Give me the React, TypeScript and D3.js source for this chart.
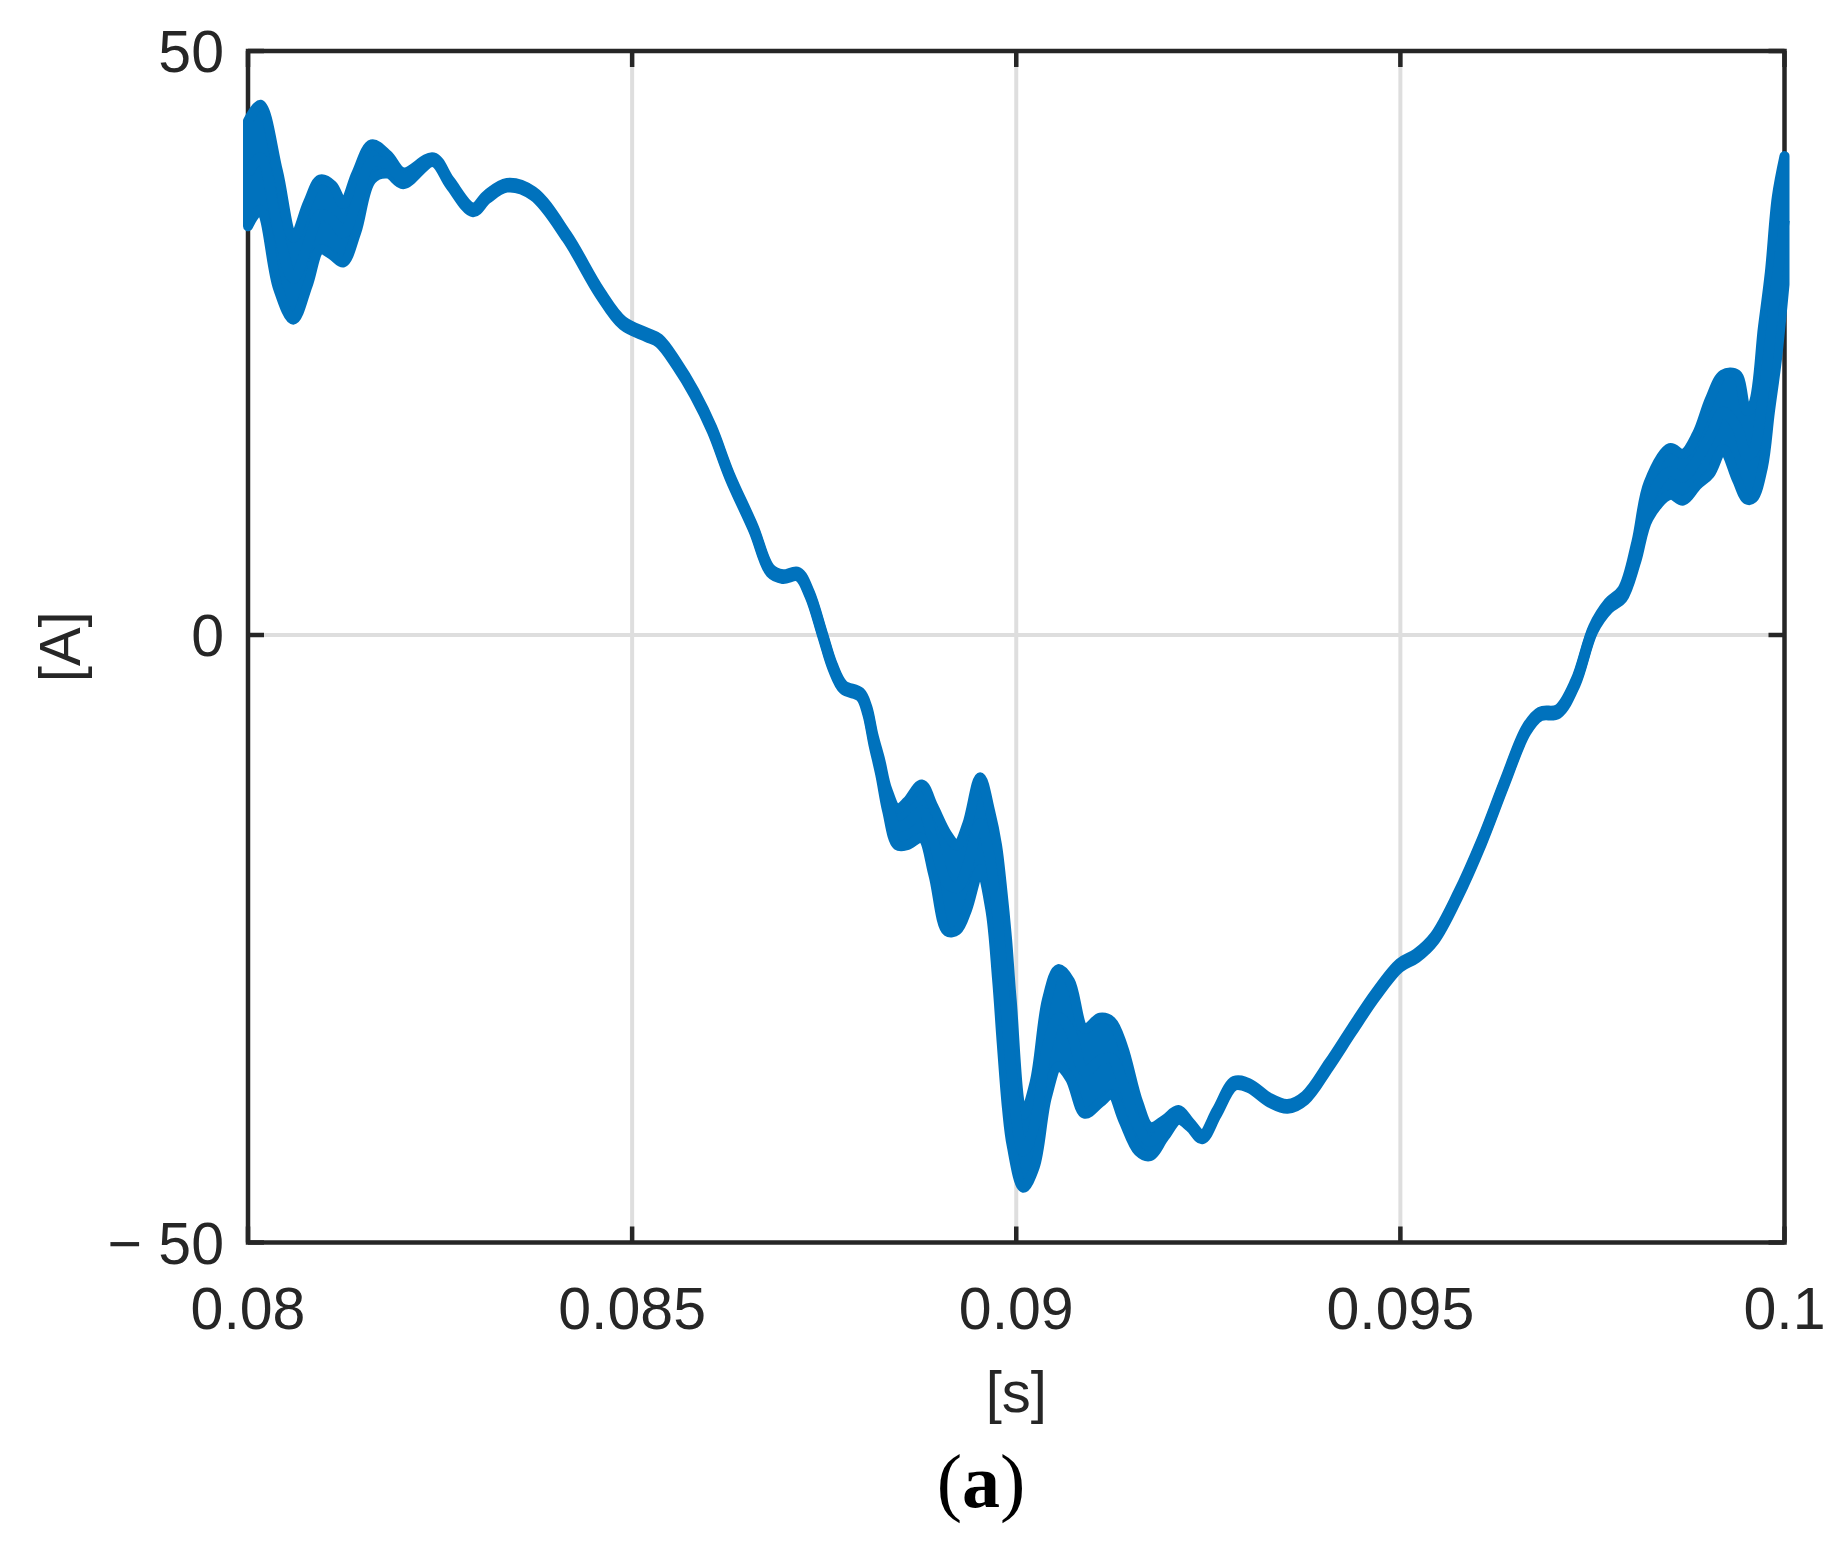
import React, { useEffect, useRef } from "react";
import * as d3 from "d3";

// time [s], current [A] and the half width of the switching ripple band [A]
const time = [
  0.08, 0.08016, 0.08039, 0.08059, 0.08078, 0.08094, 0.0811, 0.08124, 0.08141,
  0.08161, 0.08182, 0.08202, 0.08241, 0.08263, 0.08293, 0.08311, 0.08337,
  0.08371, 0.08415, 0.08458, 0.08488, 0.08519, 0.08535, 0.08558, 0.08581,
  0.08604, 0.08627, 0.08658, 0.0868, 0.08696, 0.08716, 0.08731, 0.08748,
  0.08761, 0.08775, 0.08797, 0.08806, 0.08814, 0.08823, 0.08832, 0.08845,
  0.08858, 0.08877, 0.08892, 0.0891, 0.08923, 0.08936, 0.08953, 0.08966,
  0.08975, 0.08981, 0.08988, 0.08994, 0.09009, 0.09024, 0.0904, 0.09055,
  0.0907, 0.09089, 0.09109, 0.09124, 0.09139, 0.09159, 0.09174, 0.09193,
  0.09211, 0.09226, 0.09242, 0.09261, 0.09284, 0.09303, 0.0933, 0.09353,
  0.09376, 0.09407, 0.09437, 0.09468, 0.09499, 0.09521, 0.09544, 0.09575,
  0.09606, 0.09636, 0.09664, 0.09682, 0.09705, 0.09728, 0.09751, 0.09771,
  0.09789, 0.09807, 0.09823, 0.09851, 0.09868, 0.09886, 0.09903, 0.0992,
  0.09938, 0.09951, 0.09959, 0.09972, 0.09981, 0.0999, 0.1,
];

const current = [
  39.5, 40.9, 34.7, 30.5, 33.5, 36.0, 35.5, 34.4, 37.0, 40.5, 40.3, 39.1, 40.7,
  38.7, 36.4, 37.5, 38.5, 37.8, 34.1, 29.3, 26.7, 25.7, 25.2, 23.2, 20.7, 17.6,
  13.6, 9.1, 5.5, 5.0, 5.2, 3.5, 0.0, -2.6, -4.3, -4.9, -6.2, -8.6, -10.9,
  -13.6, -15.8, -15.5, -14.5, -16.9, -20.4, -20.8, -19.1, -15.5, -18.5, -22.8,
  -27.0, -32.0, -36.0, -42.5, -40.3, -34.0, -31.5, -32.5, -35.9, -35.0, -34.8,
  -36.9, -40.5, -41.7, -40.6, -39.5, -40.3, -41.3, -39.3, -36.9, -37.1, -38.3,
  -38.8, -38.1, -35.4, -32.5, -29.6, -27.2, -26.4, -25.0, -21.4, -17.0, -12.1,
  -7.8, -6.5, -6.3, -3.9, 0.5, 2.5, 3.5, 7.1, 11.5, 14.0, 13.5, 15.0, 17.0,
  19.1, 17.8, 15.4, 15.7, 20.4, 25.1, 30.5, 35.5,
];

const ripple = [
  4.5, 4.5, 5.0, 3.5, 3.5, 3.0, 3.0, 2.5, 2.5, 1.5, 0.8, 0.5, 0.2, 0.2, 0.2,
  0.2, 0.2, 0.2, 0.2, 0.2, 0.2, 0.2, 0.2, 0.2, 0.2, 0.2, 0.2, 0.2, 0.2, 0.2,
  0.2, 0.2, 0.2, 0.2, 0.2, 0.2, 0.3, 0.4, 0.6, 0.9, 1.5, 1.8, 2.2, 2.8, 4.0,
  3.5, 3.5, 3.8, 4.0, 5.5, 6.5, 7.0, 6.0, 3.0, 3.5, 4.0, 4.0, 4.0, 3.5, 3.5,
  3.0, 3.0, 2.0, 1.2, 0.7, 0.4, 0.2, 0.2, 0.2, 0.2, 0.2, 0.2, 0.2, 0.2, 0.2,
  0.2, 0.2, 0.2, 0.2, 0.2, 0.2, 0.2, 0.2, 0.2, 0.2, 0.2, 0.2, 0.2, 0.3, 0.4,
  0.8, 1.5, 2.0, 2.0, 2.2, 3.2, 3.2, 4.5, 3.8, 4.0, 6.0, 6.0, 7.0, 5.5,
];

const xTicks = [0.08, 0.085, 0.09, 0.095, 0.1];
const xTickLabels = ["0.08", "0.085", "0.09", "0.095", "0.1"];
const yTicks = [-50, 0, 50];
const yTickLabels = ["\u2212 50", "0", "50"];

const W = 1844,
  H = 1544;

export default function App() {
  const svgRef = useRef<SVGSVGElement>(null);

  useEffect(() => {
    const svg = d3.select(svgRef.current);
    svg.selectChildren().remove();

    const left = 248,
      right = 1784.5,
      top = 51,
      bottom = 1242.5,
      axisColor = "#262626",
      gridColor = "#dedede",
      lineColor = "#0072bd",
      font = "'Liberation Sans', Arial, Helvetica, sans-serif",
      tickLen = 16;

    const x = d3.scaleLinear().domain([0.08, 0.1]).range([left, right]);
    // the zero line of the original sits a little above the middle
    const y = d3
      .scaleLinear()
      .domain([-50, 0, 50])
      .range([bottom, 635, top]);

    const data = time.map((t, i) => ({ t, v: current[i], r: ripple[i] }));

    svg.append("rect").attr("width", W).attr("height", H).attr("fill", "#fff");

    // grid
    const grid = svg.append("g").attr("stroke", gridColor).attr("stroke-width", 4);
    xTicks.slice(1, -1).forEach((t) => {
      grid
        .append("line")
        .attr("x1", x(t))
        .attr("x2", x(t))
        .attr("y1", top)
        .attr("y2", bottom);
    });
    yTicks.slice(1, -1).forEach((v) => {
      grid
        .append("line")
        .attr("x1", left)
        .attr("x2", right)
        .attr("y1", y(v))
        .attr("y2", y(v));
    });

    // box + ticks
    const axes = svg.append("g").attr("stroke", axisColor).attr("stroke-width", 4.5);
    axes
      .append("rect")
      .attr("x", left)
      .attr("y", top)
      .attr("width", right - left)
      .attr("height", bottom - top)
      .attr("fill", "none")
      .attr("stroke-linejoin", "miter");
    xTicks.forEach((t) => {
      axes.append("line").attr("x1", x(t)).attr("x2", x(t)).attr("y1", bottom).attr("y2", bottom - tickLen);
      axes.append("line").attr("x1", x(t)).attr("x2", x(t)).attr("y1", top).attr("y2", top + tickLen);
    });
    yTicks.forEach((v) => {
      axes.append("line").attr("x1", left).attr("x2", left + tickLen).attr("y1", y(v)).attr("y2", y(v));
      axes.append("line").attr("x1", right).attr("x2", right - tickLen).attr("y1", y(v)).attr("y2", y(v));
    });

    // tick labels
    const labels = svg
      .append("g")
      .attr("fill", axisColor)
      .attr("font-family", font)
      .attr("font-size", 59);
    xTicks.forEach((t, i) => {
      labels
        .append("text")
        .attr("x", x(t))
        .attr("y", 1329)
        .attr("text-anchor", "middle")
        .text(xTickLabels[i]);
    });
    yTicks.forEach((v, i) => {
      labels
        .append("text")
        .attr("x", left - 24)
        .attr("y", y(v) + 21)
        .attr("text-anchor", "end")
        .text(yTickLabels[i]);
    });

    // axis titles
    labels
      .append("text")
      .attr("x", (left + right) / 2)
      .attr("y", 1412)
      .attr("text-anchor", "middle")
      .attr("font-size", 58)
      .text("[s]");
    labels
      .append("text")
      .attr("transform", `translate(80, ${(top + bottom) / 2}) rotate(-90)`)
      .attr("text-anchor", "middle")
      .attr("font-size", 58)
      .text("[A]");

    // caption
    const cap = svg
      .append("text")
      .attr("x", 981)
      .attr("y", 1507)
      .attr("text-anchor", "middle")
      .attr("font-family", "'Liberation Serif', 'Times New Roman', serif")
      .attr("font-size", 76)
      .attr("fill", "#000");
    cap.append("tspan").text("(");
    cap.append("tspan").attr("font-weight", "bold").text("a");
    cap.append("tspan").text(")");

    // signal: ripple band + line
    const band = d3
      .area<{ t: number; v: number; r: number }>()
      .x((d) => x(d.t))
      .y0((d) => y(d.v - d.r))
      .y1((d) => y(d.v + d.r))
      .curve(d3.curveCatmullRom.alpha(0.5));
    const line = d3
      .line<{ t: number; v: number; r: number }>()
      .x((d) => x(d.t))
      .y((d) => y(d.v))
      .curve(d3.curveCatmullRom.alpha(0.5));

    svg
      .append("path")
      .datum(data)
      .attr("d", band as any)
      .attr("fill", lineColor)
      .attr("stroke", lineColor)
      .attr("stroke-width", 10)
      .attr("stroke-linejoin", "round");
    svg
      .append("path")
      .datum(data)
      .attr("d", line as any)
      .attr("fill", "none")
      .attr("stroke", lineColor)
      .attr("stroke-width", 10.5)
      .attr("stroke-linejoin", "round");
  }, []);

  return (
    <div style={{ position: "absolute", left: 0, top: 0 }}>
      <svg ref={svgRef} width={W} height={H} xmlns="http://www.w3.org/2000/svg" />
    </div>
  );
}
